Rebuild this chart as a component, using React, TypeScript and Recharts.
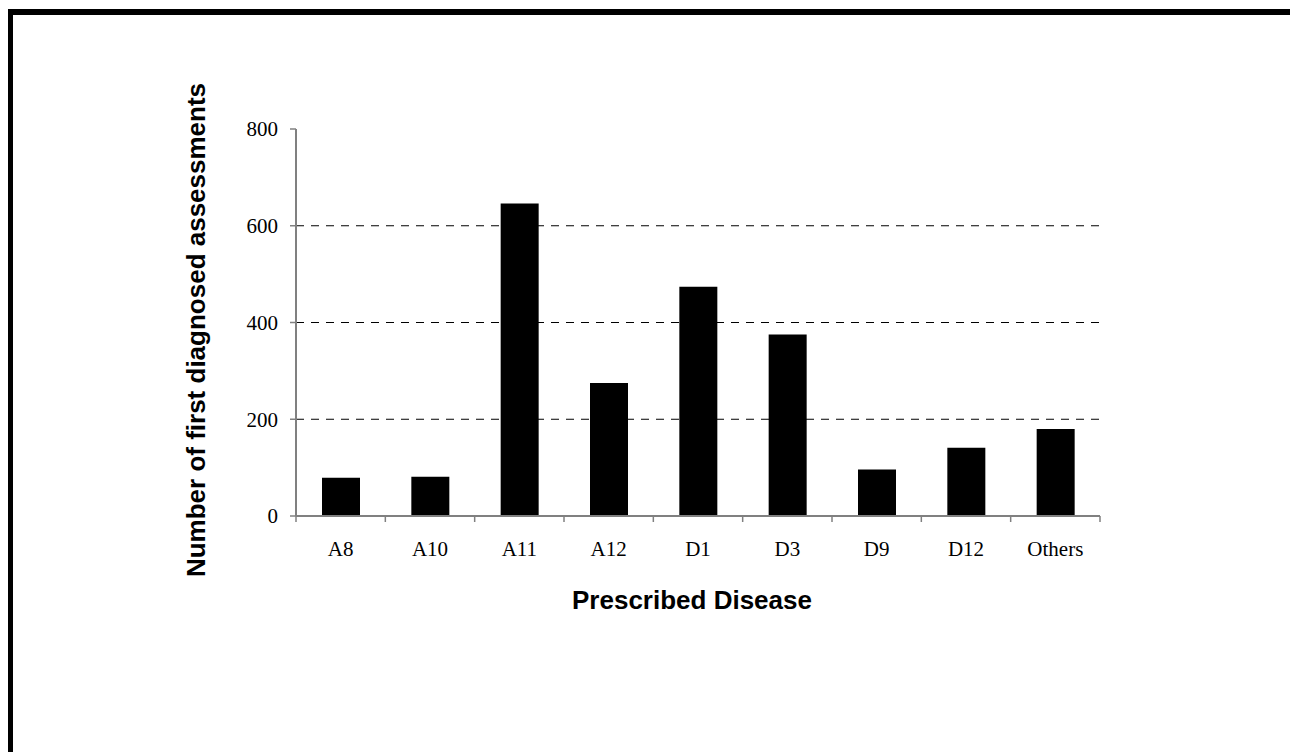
import { BarChart, Bar, XAxis, YAxis, CartesianGrid, Label } from 'recharts';

const diseases = ['A8', 'A10', 'A11', 'A12', 'D1', 'D3', 'D9', 'D12', 'Others'];
const assessments = [79, 81, 646, 275, 474, 375, 96, 141, 180];
const yTicks = [0, 200, 400, 600, 800];
const gridValues = [200, 400, 600];

const chartData = diseases.map((name, i) => ({ name, value: assessments[i] }));

const WIDTH = 1290;
const HEIGHT = 752;
const PLOT_LEFT = 296;
const PLOT_RIGHT = 1100;
const AXIS_GREY = '#808080';
const TICK_SIZE = 6;
const X_TICK_MARGIN = 19;
const serif = '"Liberation Serif", "Times New Roman", serif';
const sans = '"Liberation Sans", Arial, sans-serif';

// category ticks sit between the bars, so draw them at band edges
const CategoryTick = ({ x, y, payload, index }: any) => {
  const step = (PLOT_RIGHT - PLOT_LEFT) / diseases.length;
  const axisY = y - X_TICK_MARGIN - TICK_SIZE;
  const left = x - step / 2;
  return (
    <g>
      <line x1={left} x2={left} y1={axisY} y2={axisY + TICK_SIZE} stroke={AXIS_GREY} strokeWidth={1.5} />
      {index === diseases.length - 1 && (
        <line x1={x + step / 2} x2={x + step / 2} y1={axisY} y2={axisY + TICK_SIZE} stroke={AXIS_GREY} strokeWidth={1.5} />
      )}
      <text x={x} y={y} dy="0.71em" textAnchor="middle" fill="#000" fontFamily={serif} fontSize={21}>
        {payload.value}
      </text>
    </g>
  );
};

const App = () => {
  return (
    <div>
      <div
        style={{
          position: 'absolute',
          left: 8,
          top: 9,
          width: WIDTH - 8,
          height: HEIGHT - 9,
          boxSizing: 'border-box',
          borderLeft: '5px solid #000',
          borderTop: '6px solid #000',
        }}
      />
      <div style={{ position: 'absolute', left: 0, top: 0, width: WIDTH, height: HEIGHT }}>
        <BarChart
          width={WIDTH}
          height={HEIGHT}
          data={chartData}
          margin={{ top: 129, right: WIDTH - PLOT_RIGHT, left: 0, bottom: 0 }}
        >
          <CartesianGrid
            vertical={false}
            horizontalValues={gridValues}
            stroke="#000"
            strokeDasharray="8 7"
          />
          <XAxis
            dataKey="name"
            height={236}
            axisLine={{ stroke: AXIS_GREY, strokeWidth: 2 }}
            tickLine={false}
            tickMargin={X_TICK_MARGIN}
            tickSize={TICK_SIZE}
            interval={0}
            tick={<CategoryTick />}
          >
            <Label
              content={() => (
                <text x={692} y={609} textAnchor="middle" fontFamily={sans} fontWeight="bold" fontSize={26} fill="#000">
                  Prescribed Disease
                </text>
              )}
            />
          </XAxis>
          <YAxis
            width={PLOT_LEFT}
            domain={[0, 800]}
            ticks={yTicks}
            interval={0}
            axisLine={{ stroke: AXIS_GREY, strokeWidth: 2 }}
            tickLine={{ stroke: AXIS_GREY, strokeWidth: 1.5 }}
            tickSize={TICK_SIZE}
            tickMargin={12}
            tick={{ fill: '#000', fontFamily: serif, fontSize: 21 }}
          >
            <Label
              content={() => (
                <text
                  x={205}
                  y={330}
                  transform="rotate(-90 205 330)"
                  textAnchor="middle"
                  fontFamily={sans}
                  fontWeight="bold"
                  fontSize={26}
                  fill="#000"
                >
                  Number of first diagnosed assessments
                </text>
              )}
            />
          </YAxis>
          <Bar dataKey="value" fill="#000" barSize={38} isAnimationActive={false} />
        </BarChart>
      </div>
    </div>
  );
};

export default App;
